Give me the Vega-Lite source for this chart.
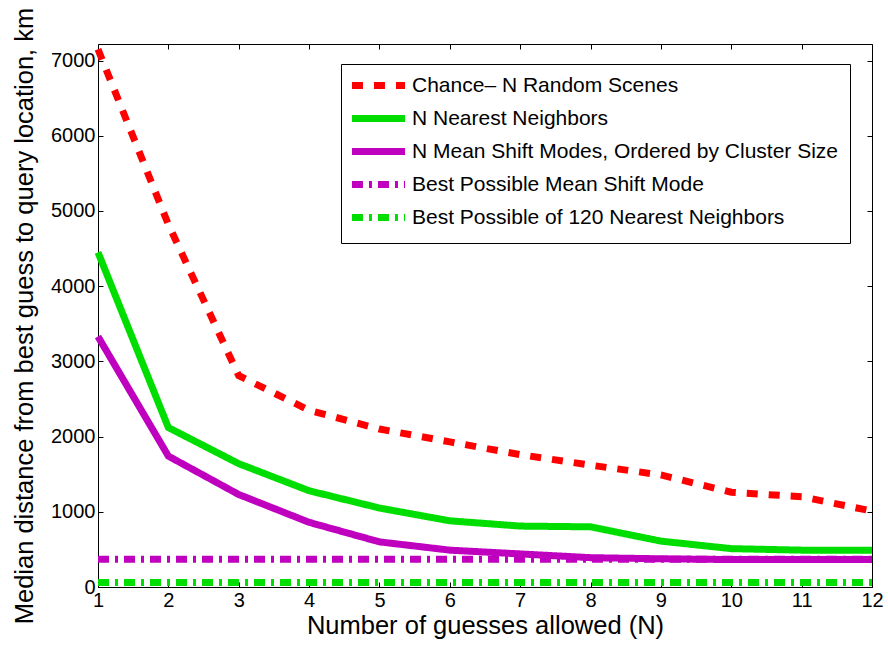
{
  "$schema": "https://vega.github.io/schema/vega-lite/v6.json",
  "width": 774,
  "height": 543,
  "autosize": "none",
  "padding": {"left": 98, "top": 44, "right": 16, "bottom": 60},
  "background": "white",
  "config": {
    "font": "Liberation Sans",
    "view": {"stroke": null},
    "axis": {"grid": false, "domainColor": "black", "tickColor": "black", "labelColor": "black", "titleColor": "black", "labelFont": "Liberation Sans", "titleFont": "Liberation Sans", "titleFontWeight": "normal", "labelFontSize": 20, "titleFontSize": 25.5, "tickSize": -5, "domainWidth": 1, "tickWidth": 1, "format": "d"}
  },
  "data": {"values": [
    {"n": 1, "d": 7150, "s": "Chance\u2013 N Random Scenes"},
    {"n": 2, "d": 4820, "s": "Chance\u2013 N Random Scenes"},
    {"n": 3, "d": 2810, "s": "Chance\u2013 N Random Scenes"},
    {"n": 4, "d": 2350, "s": "Chance\u2013 N Random Scenes"},
    {"n": 5, "d": 2100, "s": "Chance\u2013 N Random Scenes"},
    {"n": 6, "d": 1930, "s": "Chance\u2013 N Random Scenes"},
    {"n": 7, "d": 1760, "s": "Chance\u2013 N Random Scenes"},
    {"n": 8, "d": 1620, "s": "Chance\u2013 N Random Scenes"},
    {"n": 9, "d": 1490, "s": "Chance\u2013 N Random Scenes"},
    {"n": 10, "d": 1260, "s": "Chance\u2013 N Random Scenes"},
    {"n": 11, "d": 1200, "s": "Chance\u2013 N Random Scenes"},
    {"n": 12, "d": 1010, "s": "Chance\u2013 N Random Scenes"},
    {"n": 1, "d": 4450, "s": "N Nearest Neighbors"},
    {"n": 2, "d": 2120, "s": "N Nearest Neighbors"},
    {"n": 3, "d": 1640, "s": "N Nearest Neighbors"},
    {"n": 4, "d": 1280, "s": "N Nearest Neighbors"},
    {"n": 5, "d": 1050, "s": "N Nearest Neighbors"},
    {"n": 6, "d": 880, "s": "N Nearest Neighbors"},
    {"n": 7, "d": 810, "s": "N Nearest Neighbors"},
    {"n": 8, "d": 800, "s": "N Nearest Neighbors"},
    {"n": 9, "d": 610, "s": "N Nearest Neighbors"},
    {"n": 10, "d": 510, "s": "N Nearest Neighbors"},
    {"n": 11, "d": 490, "s": "N Nearest Neighbors"},
    {"n": 12, "d": 490, "s": "N Nearest Neighbors"},
    {"n": 1, "d": 3330, "s": "N Mean Shift Modes, Ordered by Cluster Size"},
    {"n": 2, "d": 1740, "s": "N Mean Shift Modes, Ordered by Cluster Size"},
    {"n": 3, "d": 1230, "s": "N Mean Shift Modes, Ordered by Cluster Size"},
    {"n": 4, "d": 860, "s": "N Mean Shift Modes, Ordered by Cluster Size"},
    {"n": 5, "d": 600, "s": "N Mean Shift Modes, Ordered by Cluster Size"},
    {"n": 6, "d": 490, "s": "N Mean Shift Modes, Ordered by Cluster Size"},
    {"n": 7, "d": 440, "s": "N Mean Shift Modes, Ordered by Cluster Size"},
    {"n": 8, "d": 390, "s": "N Mean Shift Modes, Ordered by Cluster Size"},
    {"n": 9, "d": 375, "s": "N Mean Shift Modes, Ordered by Cluster Size"},
    {"n": 10, "d": 365, "s": "N Mean Shift Modes, Ordered by Cluster Size"},
    {"n": 11, "d": 365, "s": "N Mean Shift Modes, Ordered by Cluster Size"},
    {"n": 12, "d": 365, "s": "N Mean Shift Modes, Ordered by Cluster Size"},
    {"n": 1, "d": 370, "s": "Best Possible Mean Shift Mode"},
    {"n": 12, "d": 370, "s": "Best Possible Mean Shift Mode"},
    {"n": 1, "d": 60, "s": "Best Possible of 120 Nearest Neighbors"},
    {"n": 12, "d": 60, "s": "Best Possible of 120 Nearest Neighbors"}
  ]},
  "layer": [
    {
      "mark": {"type": "line", "strokeCap": "butt", "strokeJoin": "miter"},
      "encoding": {
        "x": {"field": "n", "type": "quantitative", "scale": {"domain": [1, 12], "nice": false, "zero": false},
              "axis": {"orient": "bottom", "values": [1,2,3,4,5,6,7,8,9,10,11,12], "title": "Number of guesses allowed (N)", "labelPadding": 8, "titlePadding": 3, "labelFlush": false}},
        "y": {"field": "d", "type": "quantitative", "scale": {"domain": [0, 7220], "nice": false},
              "axis": {"orient": "left", "values": [0,1000,2000,3000,4000,5000,6000,7000], "title": "Median distance from best guess to query location, km", "labelPadding": 8, "titlePadding": 13, "labelFlush": false}},
        "color": {"field": "s", "type": "nominal",
          "scale": {"domain": ["Chance\u2013 N Random Scenes", "N Nearest Neighbors", "N Mean Shift Modes, Ordered by Cluster Size", "Best Possible Mean Shift Mode", "Best Possible of 120 Nearest Neighbors"],
                    "range": ["#FF0000", "#00DD00", "#BF00BF", "#BF00BF", "#00DD00"]},
          "legend": {"title": null, "orient": "none", "legendX": 243, "legendY": 20, "symbolType": "M-4,0H4", "symbolSize": 176, "symbolStrokeWidth": 6, "symbolFillColor": "transparent", "symbolOffset": 16, "labelFontSize": 21, "labelFont": "Liberation Sans", "labelColor": "black", "strokeColor": "black", "fillColor": "white", "padding": 11, "rowPadding": 4, "labelOffset": 23, "labelLimit": 700}},
        "strokeDash": {"field": "s", "type": "nominal",
          "scale": {"domain": ["Chance\u2013 N Random Scenes", "N Nearest Neighbors", "N Mean Shift Modes, Ordered by Cluster Size", "Best Possible Mean Shift Mode", "Best Possible of 120 Nearest Neighbors"],
                    "range": [[11, 11], [1, 0], [1, 0], [11, 6, 3, 6], [11, 6, 3, 6]]}},
        "strokeWidth": {"field": "s", "type": "nominal",
          "scale": {"domain": ["Chance\u2013 N Random Scenes", "N Nearest Neighbors", "N Mean Shift Modes, Ordered by Cluster Size", "Best Possible Mean Shift Mode", "Best Possible of 120 Nearest Neighbors"],
                    "range": [7, 7, 7, 5, 5]}, "legend": null}
      }
    },
    {
      "mark": {"type": "point", "opacity": 0},
      "encoding": {
        "x": {"field": "n", "type": "quantitative", "axis": {"orient": "top", "values": [1,2,3,4,5,6,7,8,9,10,11,12], "labels": false, "title": null}},
        "y": {"field": "d", "type": "quantitative", "axis": {"orient": "right", "values": [0,1000,2000,3000,4000,5000,6000,7000], "labels": false, "title": null}}
      }
    }
  ],
  "resolve": {"axis": {"x": "independent", "y": "independent"}}
}
